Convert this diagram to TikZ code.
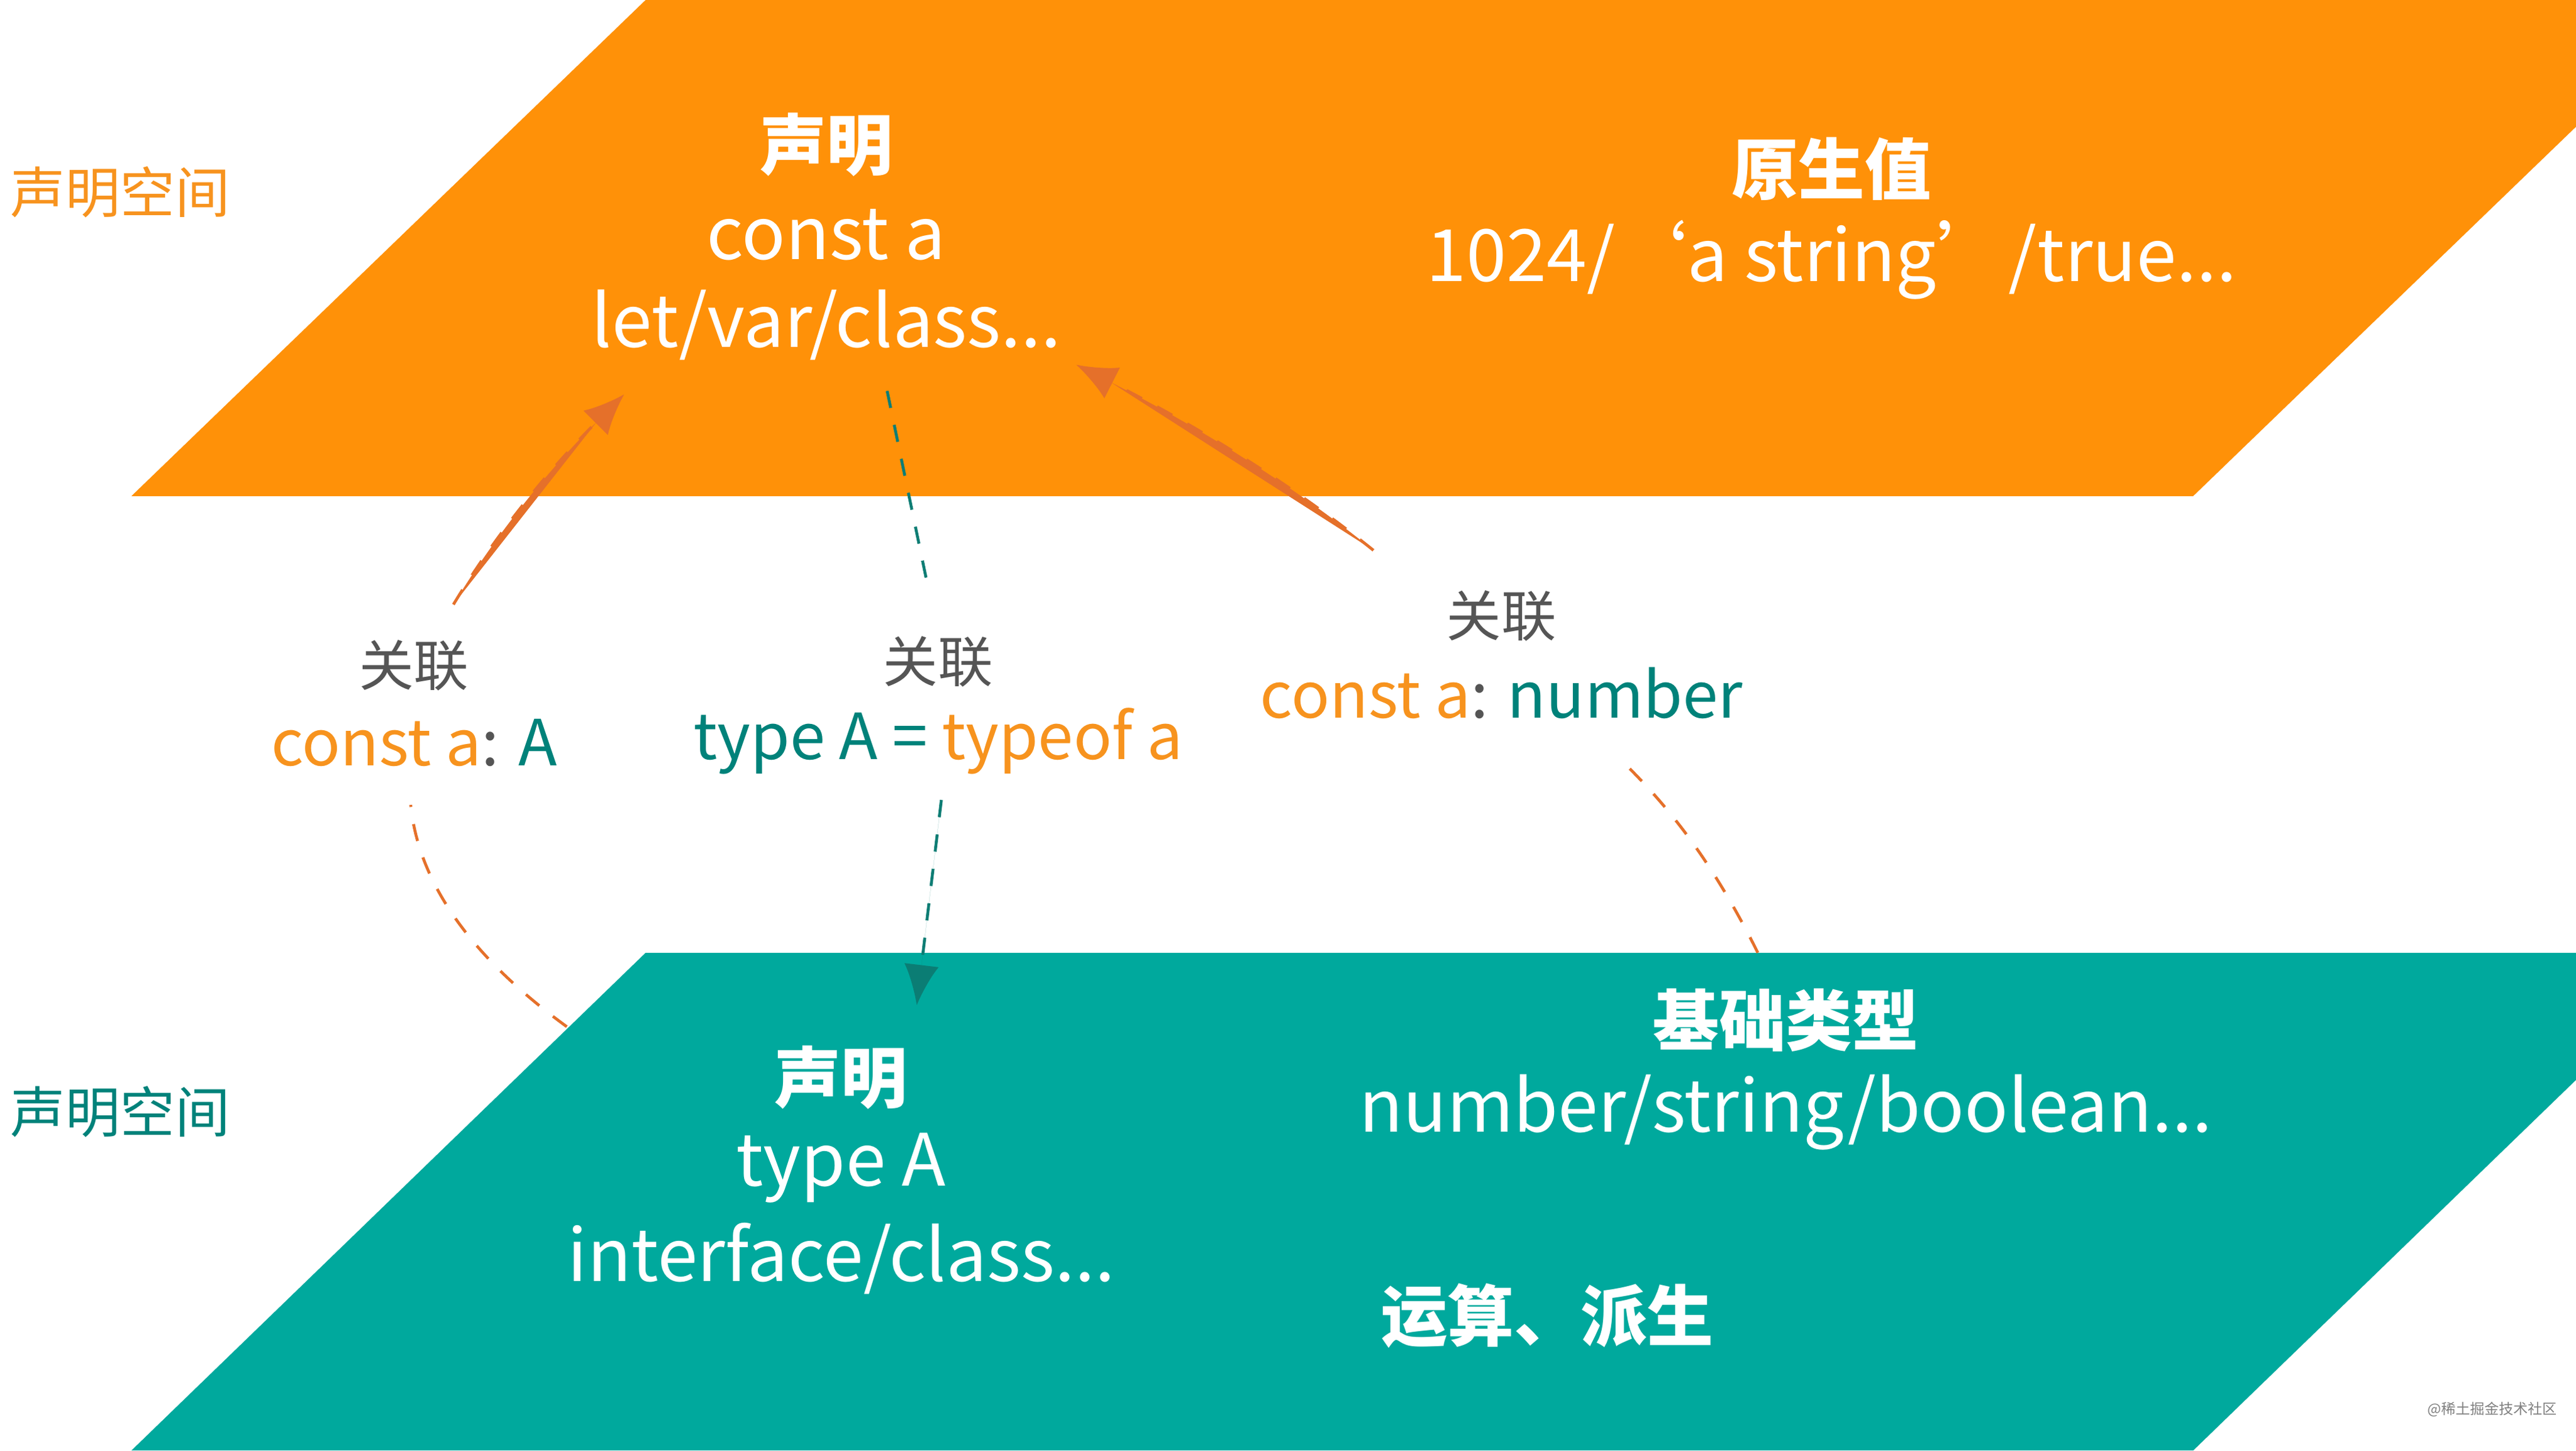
\documentclass[tikz,border=0pt]{standalone}
\usepackage{fontspec}
\setmainfont{Noto Sans CJK SC}
\usetikzlibrary{arrows.meta}
\definecolor{org}{HTML}{FF9108}
\definecolor{tea}{HTML}{00A99D}
\definecolor{orgtxt}{HTML}{F7931E}
\definecolor{teatxt}{HTML}{00827A}
\definecolor{orgln}{HTML}{E5702A}
\definecolor{tealn}{HTML}{0B7D74}
\definecolor{lbl}{HTML}{555555}
\tikzset{
 head/.style={text=white,font=\fontsize{11.5}{13}\selectfont\bfseries},
 body/.style={text=white,font=\fontsize{12.5}{14}\selectfont},
 rel/.style={text=lbl,font=\fontsize{9.5}{11}\selectfont},
 code/.style={font=\fontsize{11}{13}\selectfont},
 side/.style={anchor=west,font=\fontsize{9.5}{11}\selectfont},
 oline/.style={draw=orgln,dashed,line width=0.5pt},
 tline/.style={draw=tealn,dashed,line width=0.5pt},
 otip/.style={-{Latex[length=7pt,width=6pt]},fill=orgln},
 ttip/.style={-{Latex[length=7pt,width=6pt]},fill=tealn},
}
\begin{document}
\begin{tikzpicture}[x=0.01cm,y=-0.01cm]
\useasboundingbox (0,0) rectangle (1568,883);
\begin{scope}
\clip (0,0) rectangle (1568,883);
\fill[org] (393,0) -- (1648,0) -- (1335,302) -- (80,302) -- cycle;
\fill[tea] (393,580) -- (1648,580) -- (1335,883) -- (80,883) -- cycle;
\end{scope}
\node[side,text=orgtxt] (s1) at (-6,117) {声明空间};
\node[side,text=teatxt] (s2) at (-6,677) {声明空间};
\node[head] (o1) at (503,88) {声明};
\node[body] (o2) at (503,143) {const a};
\node[body] (o3) at (503,198) {let/var/class...};
\node[head] (o4) at (1115,103) {原生值};
\node[body] (o5) at (1115,158) {1024/‘a string’/true...};
\node[head] (t1) at (512,656) {声明};
\node[body] (t2) at (512,711) {type A};
\node[body] (t3) at (512,766) {interface/class...};
\node[head] (t4) at (1087,621) {基础类型};
\node[body] (t5) at (1087,677) {number/string/boolean...};
\node[head] (t6) at (942,801) {运算、派生};
\node[rel] (r1) at (252,405) {关联};
\node[code] (c1) at (252,452) {\textcolor{orgtxt}{const a}\textcolor{lbl}{:} \textcolor{teatxt}{A}};
\node[rel] (r2) at (571,403) {关联};
\node[code] (c2) at (571,451) {\textcolor{teatxt}{type A =} \textcolor{orgtxt}{typeof a}};
\node[rel] (r3) at (914,375) {关联};
\node[code] (c3) at (914,422) {\textcolor{orgtxt}{const a}\textcolor{lbl}{:} \textcolor{teatxt}{number}};
\node[text=gray,font=\fontsize{2.5}{3}\selectfont] (wm) at (1517,858) {@稀土掘金技术社区};
\coordinate (a1) at (345,625); \coordinate (a2) at (250,490);
\coordinate (a3) at (276,368); \coordinate (a4) at (380,240);
\coordinate (b1) at (540,238); \coordinate (b2) at (565,358);
\coordinate (b3) at (573,487); \coordinate (b4) at (558,612);
\coordinate (d1) at (1070,580); \coordinate (d2) at (987,463);
\coordinate (d3) at (836,335); \coordinate (d4) at (655,222);
\draw[oline] (a1) .. controls (290,585) and (255,540) .. (a2);
\draw[oline,otip] (a3) .. controls (305,320) and (340,280) .. (a4);
\draw[tline] (b1) -- (b2);
\draw[tline,ttip] (b3) -- (b4);
\draw[oline] (d1) .. controls (1045,530) and (1020,495) .. (d2);
\draw[oline,otip] (d3) .. controls (780,290) and (720,255) .. (d4);
\end{tikzpicture}
\end{document}
